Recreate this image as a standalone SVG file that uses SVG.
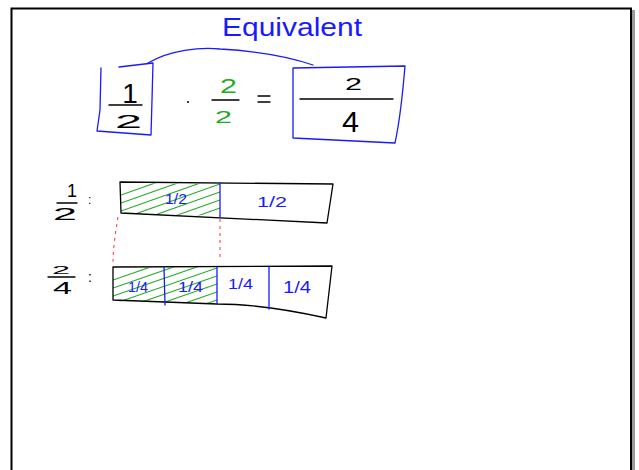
<svg xmlns="http://www.w3.org/2000/svg" width="639" height="470" viewBox="0 0 639 470">
<style>
.k{fill:none;stroke:#000;stroke-width:1.3;stroke-linecap:round;stroke-linejoin:round}
.b{fill:none;stroke:#1a1aff;stroke-width:1.3;stroke-linecap:round;stroke-linejoin:round}
.g{fill:none;stroke:#22aa22;stroke-width:1.1;stroke-linecap:round}
.r{fill:none;stroke:#ff3333;stroke-width:1;stroke-dasharray:3 4}
.t{font-family:"Liberation Sans",Arial,sans-serif}
.tk{fill:#000}.tb{fill:#1a1aff}.tg{fill:#22aa22}
</style>
<defs>
<clipPath id="c1"><path d="M121,183 L220,184 L220,216 L121,213 Z"/></clipPath>
<clipPath id="c2"><path d="M113,268 L217,267 L217,304 L113,301 Z"/></clipPath>
</defs>
<rect width="639" height="470" fill="#fff"/>
<g id="frame">
<line x1="633.5" y1="10" x2="633.5" y2="470" stroke="#999" stroke-width="3"/>
<path d="M11.5,470 L11.5,8.5 L631,8.5 L631,470" fill="none" stroke="#000" stroke-width="2"/>
</g>
<g id="title"><text class="t tb" x="222" y="36" font-size="26" textLength="140" lengthAdjust="spacingAndGlyphs">Equivalent</text></g>
<g id="connectors">
<path class="b" d="M148,63 C170,50 200,47 220,49 C255,51 290,57 313,65"/>
<path class="r" d="M118,217 C115,235 113,250 113,264"/>
<path class="r" d="M220,219 L220,260"/>
</g>
<g id="half-box">
<path class="b" d="M101,68 L100,110 L97,131 L151,135 L152,100 L153,63 L119,67"/>
<text class="t tk" x="130" y="103" font-size="28" text-anchor="middle" font-weight="300">1</text>
<line class="k" x1="109" y1="105" x2="142" y2="105"/>
<text class="t tk" x="115" y="128" font-size="18" textLength="27" lengthAdjust="spacingAndGlyphs">2</text>
</g>
<g id="dot"><circle cx="188" cy="102" r="1" fill="#000"/></g>
<g id="two-over-two">
<text class="t tg" x="220" y="93" font-size="21" textLength="17" lengthAdjust="spacingAndGlyphs">2</text>
<line class="k" x1="212" y1="100" x2="239" y2="100"/>
<text class="t tg" x="215" y="123" font-size="17" textLength="17" lengthAdjust="spacingAndGlyphs">2</text>
</g>
<g id="equals">
<line class="k" x1="258" y1="96" x2="270" y2="96"/>
<line class="k" x1="258" y1="102" x2="270" y2="102"/>
</g>
<g id="two-fourths-box">
<path class="b" d="M293,68 L293,138 L395,143 C400,120 403,90 405,66 L293,68"/>
<text class="t tk" x="345" y="90" font-size="17" textLength="17" lengthAdjust="spacingAndGlyphs">2</text>
<line class="k" x1="300" y1="99" x2="393" y2="99"/>
<text class="t tk" x="342" y="132" font-size="29" textLength="17" lengthAdjust="spacingAndGlyphs">4</text>
</g>
<g id="label-half">
<text class="t tk" x="72" y="197" font-size="18" text-anchor="middle">1</text>
<line class="k" x1="57" y1="203" x2="77" y2="203"/>
<text class="t tk" x="53" y="220" font-size="17" textLength="24" lengthAdjust="spacingAndGlyphs">2</text>
<text class="t tk" x="88" y="204" font-size="12">:</text>
</g>
<g id="label-fourths">
<text class="t tk" x="52" y="274" font-size="11" textLength="18" lengthAdjust="spacingAndGlyphs">2</text>
<line class="k" x1="48" y1="277" x2="75" y2="277"/>
<text class="t tk" x="53" y="294" font-size="16" textLength="19" lengthAdjust="spacingAndGlyphs">4</text>
<text class="t tk" x="88" y="282" font-size="14">:</text>
</g>
<g id="bar-halves">
<g clip-path="url(#c1)">
<path class="g" d="M121,195 L220,160 M121,203 L220,168 M121,211 L220,176 M121,219 L220,184 M121,227 L220,192 M121,235 L220,200 M121,243 L220,208 M121,251 L220,216"/>
</g>
<path class="k" d="M120,182 L333,184 L327,223 L121,213 Z"/>
<line class="b" x1="220" y1="183" x2="220" y2="217"/>
<text class="t tb" x="165" y="204" font-size="14" textLength="22" lengthAdjust="spacingAndGlyphs">1/2</text>
<text class="t tb" x="257" y="207" font-size="14" textLength="30" lengthAdjust="spacingAndGlyphs">1/2</text>
</g>
<g id="bar-fourths">
<g clip-path="url(#c2)">
<path class="g" d="M113,280 L217,244 M113,288 L217,252 M113,296 L217,260 M113,304 L217,268 M113,312 L217,276 M113,320 L217,284 M113,328 L217,292 M113,336 L217,300 M113,344 L217,308"/>
</g>
<path class="k" d="M113,267 L332,266 L326,318 C290,310 250,304 217,304 L113,300 Z"/>
<line class="b" x1="164" y1="267" x2="165" y2="305"/>
<line class="b" x1="217" y1="267" x2="217" y2="304"/>
<line class="b" x1="269" y1="267" x2="269" y2="309"/>
<text class="t tb" x="128" y="292" font-size="15" textLength="20" lengthAdjust="spacingAndGlyphs">1/4</text>
<text class="t tb" x="178" y="292" font-size="15" textLength="25" lengthAdjust="spacingAndGlyphs">1/4</text>
<text class="t tb" x="228" y="289" font-size="15" textLength="25" lengthAdjust="spacingAndGlyphs">1/4</text>
<text class="t tb" x="283" y="293" font-size="16" textLength="28" lengthAdjust="spacingAndGlyphs">1/4</text>
</g>
</svg>
